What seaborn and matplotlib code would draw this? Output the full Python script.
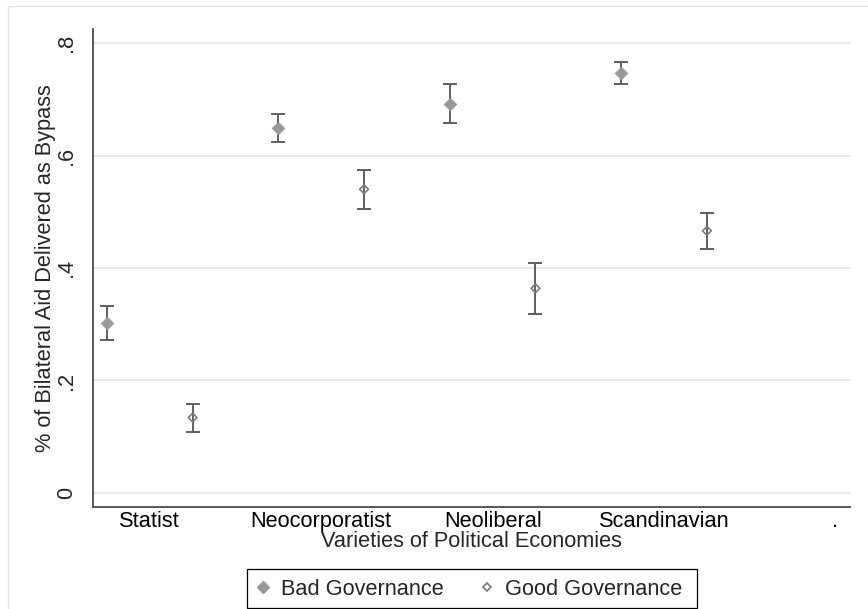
import matplotlib
matplotlib.use("Agg")
import matplotlib.pyplot as plt
import seaborn as sns
import pandas as pd
from matplotlib.lines import Line2D
from matplotlib.patches import Rectangle

# Varieties of political economies and their mean bypass shares with 95% CIs
categories = ["Statist", "Neocorporatist", "Neoliberal", "Scandinavian"]
extra_tick = "."

bad_mean = [0.303, 0.649, 0.692, 0.746]
bad_lo = [0.272, 0.624, 0.657, 0.727]
bad_hi = [0.333, 0.674, 0.727, 0.766]

good_mean = [0.134, 0.540, 0.364, 0.466]
good_lo = [0.108, 0.505, 0.319, 0.434]
good_hi = [0.159, 0.575, 0.409, 0.498]

y_ticks = [0, 0.2, 0.4, 0.6, 0.8]
y_tick_labels = ["0", ".2", ".4", ".6", ".8"]

series_names = ["Bad Governance", "Good Governance"]

# Long-form table: each category gets a pair of slots (bad, good)
rows = []
for i, cat in enumerate(categories):
    rows.append(dict(cat=cat, group=series_names[0], pos=2 * i + 1,
                     value=bad_mean[i], lo=bad_lo[i], hi=bad_hi[i]))
    rows.append(dict(cat=cat, group=series_names[1], pos=2 * i + 2,
                     value=good_mean[i], lo=good_lo[i], hi=good_hi[i]))
df = pd.DataFrame(rows)

sns.set_style("white")
plt.rcParams["font.family"] = ["Liberation Sans", "DejaVu Sans"]

FS = 15.7
W, H = 868, 609
fig = plt.figure(figsize=(W / 100, H / 100), dpi=100)
fig.patch.set_facecolor("white")

# light outer frame around the graph region
fig.add_artist(Rectangle((8 / W, -0.05), 1.2, 1 - 6 / H + 0.05,
                         transform=fig.transFigure, fill=False,
                         ec="#e2e2e2", lw=1.0))

ax = fig.add_axes([93 / W, 1 - 507 / H, (850 - 93) / W, (507 - 29) / H])

err_color = "#5e5e5e"
for name in series_names:
    sub = df[df.group == name]
    ax.errorbar(sub.pos, sub.value,
                yerr=[sub.value - sub.lo, sub.hi - sub.value],
                fmt="none", ecolor=err_color, elinewidth=1.4,
                capsize=5, capthick=1.4, zorder=2)

bad_df = df[df.group == series_names[0]]
good_df = df[df.group == series_names[1]]

sns.scatterplot(data=bad_df, x="pos", y="value", marker="D", s=42,
                color="#999999", edgecolor="#999999", linewidth=0.5,
                ax=ax, zorder=3, legend=False)
sns.scatterplot(data=good_df, x="pos", y="value", marker="D", s=20,
                color="#7a7a7a", ax=ax, zorder=3, legend=False)
pts = ax.collections[-1]
pts.set_facecolor("none")
pts.set_edgecolor("#7a7a7a")
pts.set_linewidth(1.2)

ax.set_xlim(0.837, 9.67)
ax.set_ylim(-0.0249, 0.8249)

tick_names = categories + [extra_tick]
ax.set_xticks([2 * i + 1.5 for i in range(len(tick_names))])
ax.set_xticklabels(tick_names, fontsize=FS)
ax.tick_params(axis="x", length=0, pad=3, colors="black")

ax.set_yticks(y_ticks)
ax.set_yticklabels(y_tick_labels, fontsize=FS)
ax.tick_params(axis="y", length=8, width=1.0, color="#444444", pad=3.5,
               labelrotation=90)
for lab in ax.get_yticklabels():
    lab.set_va("center")

ax.yaxis.grid(True, color="#e6e6e6", lw=1.3)
ax.xaxis.grid(False)
ax.set_axisbelow(True)

sns.despine(ax=ax)
for side in ["left", "bottom"]:
    ax.spines[side].set_color("#4a4a4a")
    ax.spines[side].set_linewidth(1.3)

ax.set_xlabel("Varieties of Political Economies", fontsize=FS, labelpad=-0.5)
ax.set_ylabel("% of Bilateral Aid Delivered as Bypass", fontsize=FS,
              labelpad=0)

# legend keys and labels, with its box drawn as a separate frame
handles = [
    Line2D([], [], marker="D", ls="none", color="#999999", ms=6.3),
    Line2D([], [], marker="D", ls="none", mfc="none", mec="#7a7a7a",
           mew=1.2, ms=4.5),
]
leg = fig.legend(handles, series_names, loc="upper left",
                 bbox_to_anchor=(247 / W, 1 - 569 / H), borderaxespad=0,
                 ncol=2, fontsize=FS, frameon=False,
                 borderpad=0.45, handlelength=0.6,
                 handletextpad=0.5, columnspacing=1.7)
fig.add_artist(Rectangle((247 / W, 1 - 608 / H), (697 - 247) / W,
                         (608 - 569) / H, transform=fig.transFigure,
                         fill=False, ec="black", lw=0.9))

fig.savefig("out.png", dpi=100, facecolor="white")
